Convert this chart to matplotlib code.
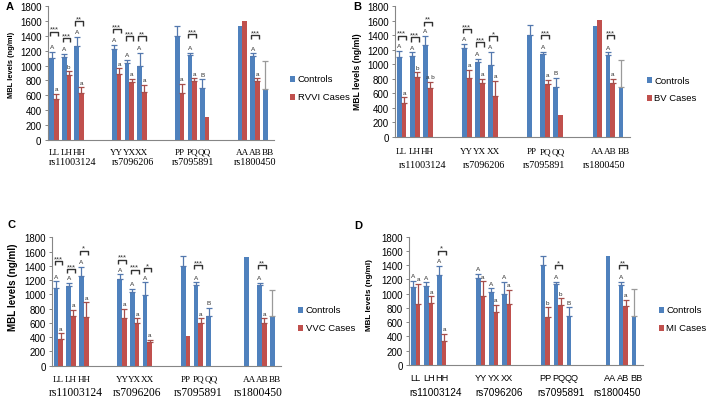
import numpy as np
import matplotlib
matplotlib.use('Agg')
import matplotlib.pyplot as plt
from matplotlib.patches import Rectangle

plt.rcParams['font.family'] = ['Liberation Sans', 'DejaVu Sans']

# ---------------- data ----------------
genotypes = ['LL', 'LH', 'HH', 'YY', 'YX', 'XX', 'PP', 'PQ', 'QQ', 'AA', 'AB', 'BB']
snps = ['rs11003124', 'rs7096206', 'rs7095891', 'rs1800450']
category_index = [0, 1, 2, 5, 6, 7, 10, 11, 12, 15, 16, 17]
n_categories = 18

controls = [1095, 1115, 1258, 1222, 1028, 995, 1400, 1136, 692, 1528, 1128, 690]
controls_err = [87, 47, 130, 58, 48, 175, 133, 34, 120, 0, 38, 374]
controls_letters = ['A', 'A', 'A', 'A', 'A', 'A', '', 'A', 'B', '', 'A', '']

nan = np.nan
rvvi = [555, 875, 630, 885, 782, 638, 630, 795, 301, 1605, 795, nan]
rvvi_err = [65, 46, 76, 77, 36, 99, 120, 33, 0, 0, 32, 0]
rvvi_letters = ['a', 'b', 'a', 'a', 'a', 'a', 'a', 'a', '', '', 'a', '']
rvvi_stars = ['***', '***', '**', '***', '***', '**', '', '***', '', '', '***', '']
rvvi_bracket = [1456, 1371, 1595, 1492, 1393, 1393, nan, 1425, nan, nan, 1411, nan]

bv = [470, 825, 672, 808, 745, 568, nan, 730, 297, 1605, 745, nan]
bv_err = [75, 63, 90, 117, 52, 206, 0, 55, 0, 0, 52, 0]
bv_letters = ['a', 'b', 'a b', 'a', 'a', 'a', '', 'a', '', '', 'a', '']
bv_stars = ['***', '***', '**', '***', '***', '*', '', '***', '', '', '***', '']
bv_bracket = [1392, 1369, 1585, 1484, 1300, 1383, nan, 1401, nan, nan, 1401, nan]

vvc = [374, 692, 678, 669, 599, 337, 421, 599, nan, nan, 599, nan]
vvc_err = [79, 89, 210, 126, 65, 23, 0, 65, 0, 0, 65, 0]
vvc_letters = ['a', 'a', 'a', 'a', 'a', 'a', '', 'a', '', '', 'a', '']
vvc_stars = ['***', '***', '*', '***', '***', '*', '', '***', '', '', '**', '']
vvc_bracket = [1463, 1355, 1613, 1486, 1346, 1365, nan, 1411, nan, nan, 1411, nan]

mi = [858, 867, 330, 973, 739, 858, 672, 842, nan, nan, 823, nan]
mi_err = [279, 95, 105, 201, 103, 194, 137, 95, 0, 0, 94, 0]
mi_letters = ['a', 'a', 'a', 'a', 'a', 'a', 'b', 'b', '', '', 'a', '']
mi_stars = ['', '', '*', '', '', '', '', '*', '', '', '**', '']
mi_bracket = [nan, nan, 1604, nan, nan, nan, nan, 1403, nan, nan, 1403, nan]

yticks = list(range(0, 1801, 200))

# ---------------- style / layout ----------------
BLUE = '#4F81BD'
RED = '#C0504D'
BLUE_ERR = '#5478AE'
RED_ERR = '#A54E4B'
GREY_ERR = '#9A9A9A'
W, H = 708, 402

panels = [
    dict(letter='A', label='RVVI Cases', vals=rvvi, err=rvvi_err, let=rvvi_letters, stars=rvvi_stars, br=rvvi_bracket,
         rect=(47.7, 273.8, 7.2, 140.7), serif=True, snp_pos=[1.45, 6.3, 11.1, 16.0], line1=12, line2=22, snp_fs=7.3,
         ylab=(11.5, 65), ylab_fs=5.4, plet=(10, 7), leg=(290, 80, 98)),
    dict(letter='B', label='BV Cases', vals=bv, err=bv_err, let=bv_letters, stars=bv_stars, br=bv_bracket,
         rect=(395.1, 630.0, 7.0, 138.0), serif=True, snp_pos=[1.64, 6.31, 10.9, 15.5], line1=14, line2=27, snp_fs=7.3,
         ylab=(357.5, 72), ylab_fs=6.2, plet=(357, 7), leg=(647, 81, 99)),
    dict(letter='C', label='VVC Cases', vals=vvc, err=vvc_err, let=vvc_letters, stars=vvc_stars, br=vvc_bracket,
         rect=(52.0, 281.0, 238.3, 366.7), serif=True, snp_pos=[1.36, 6.15, 10.97, 15.7], line1=13.3, line2=26.5, snp_fs=8.3,
         ylab=(13.5, 287), ylab_fs=7.1, plet=(11, 225), leg=(298, 310.7, 329)),
    dict(letter='D', label='MI Cases', vals=mi, err=mi_err, let=mi_letters, stars=mi_stars, br=mi_bracket,
         rect=(409.2, 642.8, 237.7, 366.0), serif=False, snp_pos=[1.54, 6.42, 11.17, 15.5], line1=13, line2=27, snp_fs=7.2,
         ylab=(369.5, 295), ylab_fs=5.9, plet=(358, 226), leg=(659, 311, 329)),
]

fig = plt.figure(figsize=(W / 100, H / 100), dpi=100)
fig.patch.set_facecolor('white')

bw = 0.37
x = np.array(category_index, dtype=float)
ctrl = np.array(controls, dtype=float)
ctrl_e = np.array(controls_err, dtype=float)
ctrl_ecolors = [GREY_ERR if g == 'BB' else BLUE_ERR for g in genotypes]

for p in panels:
    l, r, t, b = p['rect']
    ax = fig.add_axes([l / W, 1 - b / H, (r - l) / W, (b - t) / H])
    vals = np.array(p['vals'], dtype=float)
    errs = np.array(p['err'], dtype=float)

    ax.bar(x - bw / 2, ctrl, bw, color=BLUE, linewidth=0, zorder=2)
    mv = ~np.isnan(vals)
    ax.bar(x[mv] + bw / 2, vals[mv], bw, color=RED, linewidth=0, zorder=2)

    # error bars (upper only)
    for col in set(ctrl_ecolors):
        m = (ctrl_e > 0) & np.array([c == col for c in ctrl_ecolors])
        if m.any():
            ax.errorbar(x[m] - bw / 2, ctrl[m], yerr=[np.zeros(m.sum()), ctrl_e[m]], fmt='none',
                        ecolor=col, elinewidth=0.9, capsize=1.9, capthick=0.9, zorder=3)
    m = mv & (errs > 0)
    ax.errorbar(x[m] + bw / 2, vals[m], yerr=[np.zeros(m.sum()), errs[m]], fmt='none',
                ecolor=RED_ERR, elinewidth=0.9, capsize=1.9, capthick=0.9, zorder=3)

    # group letters
    for i in range(len(genotypes)):
        if controls_letters[i]:
            ax.annotate(controls_letters[i], (x[i] - bw / 2, ctrl[i] + ctrl_e[i]), xytext=(0, 2.6),
                        textcoords='offset points', ha='center', va='baseline', fontsize=4.6, color='#333333')
        if p['let'][i]:
            ax.annotate(p['let'][i], (x[i] + bw / 2, vals[i] + errs[i]), xytext=(0, 2.6),
                        textcoords='offset points', ha='center', va='baseline', fontsize=4.6, color='#333333')
        if p['stars'][i]:
            h = p['br'][i]
            ax.plot([x[i] - 0.3, x[i] - 0.3, x[i] + 0.3, x[i] + 0.3], [h - 58, h, h, h - 58],
                    color='#333333', lw=1.0, zorder=4, solid_capstyle='butt')
            ax.annotate(p['stars'][i], (x[i], h), xytext=(0, 0.6), textcoords='offset points',
                        ha='center', va='baseline', fontsize=5.6, color='#333333')

    ax.set_xlim(-0.5, n_categories - 0.5)
    ax.set_ylim(0, 1800)
    ax.set_yticks(yticks)
    ax.set_yticklabels([str(v) for v in yticks], fontsize=7)
    ax.tick_params(axis='y', length=2.5, width=0.7, color='#868686', pad=2)

    fam = ['Liberation Serif', 'DejaVu Serif'] if p['serif'] else ['Liberation Sans', 'DejaVu Sans']
    ax.set_xticks(x)
    ax.set_xticklabels(genotypes, fontsize=6.6, family=fam, va='center')
    ax.tick_params(axis='x', length=0, pad=p['line1'] * 0.72)
    for k, name in enumerate(snps):
        ax.annotate(name, (p['snp_pos'][k], 0), xycoords=('data', 'axes fraction'),
                    xytext=(0, -p['line2'] * 0.72), textcoords='offset points',
                    ha='center', va='center', fontsize=p['snp_fs'], family=fam)

    for s in ['top', 'right']:
        ax.spines[s].set_visible(False)
    for s in ['left', 'bottom']:
        ax.spines[s].set_color('#868686')
        ax.spines[s].set_linewidth(0.8)
    ax.set_facecolor('white')

    # y label & panel letter
    fig.text(p['ylab'][0] / W, 1 - p['ylab'][1] / H, 'MBL levels (ng/ml)', rotation=90,
             ha='center', va='center', fontsize=p['ylab_fs'], fontweight='bold')
    fig.text(p['plet'][0] / W, 1 - p['plet'][1] / H, p['letter'], ha='center', va='center',
             fontsize=8, fontweight='bold')

    # legend
    lx, y1, y2 = p['leg']
    for yy, lab, col in [(y1, 'Controls', BLUE), (y2, p['label'], RED)]:
        fig.add_artist(Rectangle((lx / W, 1 - (yy + 2.8) / H), 5.2 / W, 5.6 / H,
                                 transform=fig.transFigure, facecolor=col, edgecolor='none'))
        fig.text((lx + 7.5) / W, 1 - yy / H, lab, ha='left', va='center', fontsize=6.8)

fig.savefig('out.png', dpi=100, facecolor='white')
